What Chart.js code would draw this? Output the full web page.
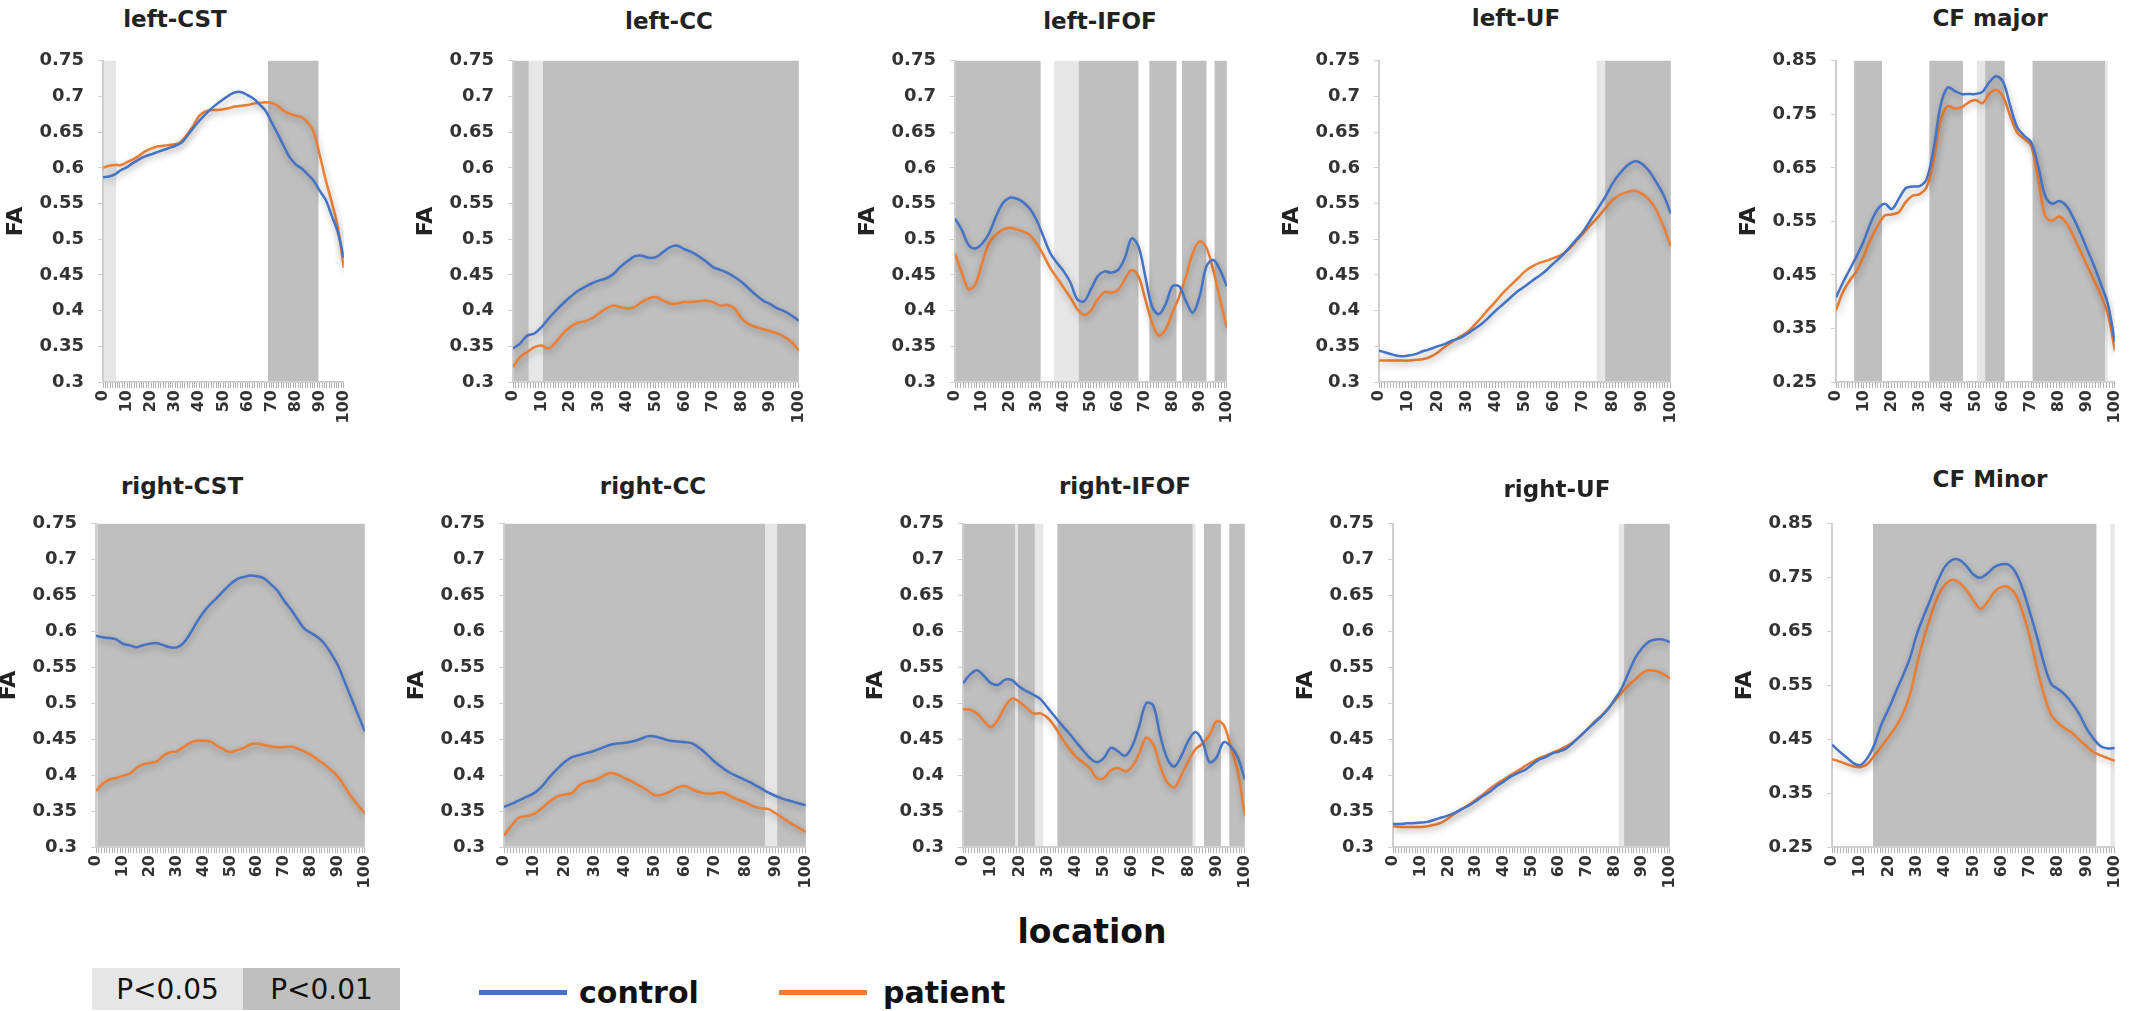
<!DOCTYPE html>
<html lang="en">
<head>
<meta charset="UTF-8" />
<title>FA along tracts: control vs patient</title>
<script src="https://cdn.jsdelivr.net/npm/chart.js"></script>
<style>
  body { margin: 0; background: #fff; }
  #page { position: relative; width: 2144px; height: 1011px; overflow: hidden; background: #fff; }
  #page canvas { position: absolute; }
  .title {
    position: absolute;
    transform: translate(-50%, -50%);
    font-family: "DejaVu Sans", sans-serif;
    font-weight: bold;
    font-size: 23px;
    line-height: 1;
    color: #222;
    white-space: nowrap;
  }
  .axis-name {
    position: absolute;
    transform: translate(-50%, -50%);
    font-family: "DejaVu Sans", sans-serif;
    font-weight: bold;
    font-size: 33px;
    line-height: 1;
    color: #111;
  }
  .pbox {
    position: absolute;
    top: 968px;
    height: 42px;
    display: flex;
    align-items: center;
    justify-content: center;
    font-family: "DejaVu Sans", sans-serif;
    font-size: 28px;
    color: #111;
  }
  .key-line { position: absolute; top: 990px; width: 88px; height: 5px; }
  .key-text {
    position: absolute;
    top: 993px;
    transform: translateY(-50%);
    font-family: "DejaVu Sans", sans-serif;
    font-weight: bold;
    font-size: 30px;
    line-height: 1;
    color: #111;
  }
</style>
</head>
<body>
<div id="page"></div>

<script>
// sample locations along the tract (0..100)
const LOC = [0, 2.5, 5, 7.5, 10, 12.5, 15, 17.5, 20, 22.5, 25, 27.5, 30, 32.5, 35, 37.5, 40, 42.5, 45, 47.5,
  50, 52.5, 55, 57.5, 60, 62.5, 65, 67.5, 70, 72.5, 75, 77.5, 80, 82.5, 85, 87.5, 90, 92.5, 95, 97.5, 100];

const X_LABELS = [0, 10, 20, 30, 40, 50, 60, 70, 80, 90, 100];
const Y_TICKS_FA = [0.3, 0.35, 0.4, 0.45, 0.5, 0.55, 0.6, 0.65, 0.7, 0.75];
const Y_TICKS_CF = [0.25, 0.35, 0.45, 0.55, 0.65, 0.75, 0.85];

// ---- FA values ----
const leftCstControl = [0.587,0.588,0.591,0.597,0.601,0.607,0.612,0.616,0.619,0.622,0.625,0.628,0.631,0.635,0.645,0.656,0.666,0.675,0.683,0.690,0.696,0.702,0.706,0.706,0.702,0.697,0.689,0.680,0.664,0.648,0.631,0.615,0.605,0.599,0.591,0.582,0.568,0.555,0.533,0.510,0.474];
const leftCstPatient = [0.600,0.603,0.604,0.604,0.608,0.612,0.617,0.623,0.627,0.630,0.631,0.632,0.633,0.637,0.647,0.659,0.673,0.679,0.681,0.681,0.682,0.684,0.686,0.687,0.688,0.690,0.691,0.692,0.691,0.687,0.680,0.676,0.673,0.671,0.664,0.650,0.618,0.583,0.552,0.517,0.460];

const leftCcControl = [0.347,0.354,0.365,0.368,0.377,0.389,0.400,0.410,0.419,0.427,0.433,0.438,0.442,0.445,0.451,0.461,0.469,0.476,0.477,0.474,0.475,0.482,0.489,0.491,0.486,0.482,0.476,0.469,0.461,0.457,0.453,0.447,0.440,0.431,0.422,0.414,0.409,0.403,0.399,0.393,0.386];
const leftCcPatient = [0.321,0.335,0.342,0.349,0.351,0.347,0.356,0.368,0.377,0.383,0.385,0.389,0.396,0.403,0.407,0.405,0.403,0.405,0.412,0.417,0.419,0.414,0.410,0.410,0.412,0.412,0.413,0.414,0.412,0.407,0.408,0.403,0.389,0.381,0.377,0.374,0.371,0.368,0.363,0.356,0.344];

const leftIfofControl = [0.529,0.513,0.492,0.487,0.494,0.508,0.531,0.550,0.558,0.557,0.552,0.543,0.527,0.504,0.481,0.467,0.455,0.439,0.416,0.413,0.430,0.448,0.455,0.453,0.457,0.474,0.501,0.490,0.448,0.406,0.395,0.409,0.434,0.434,0.413,0.397,0.420,0.462,0.471,0.457,0.434];
const leftIfofPatient = [0.480,0.453,0.430,0.437,0.467,0.494,0.506,0.513,0.516,0.514,0.511,0.506,0.494,0.478,0.460,0.446,0.432,0.418,0.402,0.394,0.400,0.416,0.426,0.425,0.429,0.444,0.457,0.448,0.416,0.383,0.365,0.374,0.397,0.420,0.448,0.481,0.497,0.488,0.457,0.416,0.376];

const leftUfControl = [0.344,0.341,0.338,0.336,0.337,0.339,0.343,0.346,0.350,0.353,0.358,0.361,0.367,0.374,0.381,0.390,0.400,0.409,0.418,0.427,0.434,0.442,0.449,0.457,0.467,0.476,0.487,0.499,0.511,0.527,0.543,0.559,0.578,0.592,0.603,0.609,0.606,0.596,0.580,0.562,0.536];
const leftUfPatient = [0.330,0.330,0.330,0.330,0.330,0.331,0.332,0.335,0.341,0.349,0.356,0.363,0.369,0.379,0.390,0.402,0.413,0.425,0.435,0.445,0.455,0.462,0.467,0.470,0.474,0.478,0.486,0.497,0.508,0.520,0.531,0.543,0.555,0.562,0.566,0.568,0.564,0.556,0.541,0.518,0.490];

const cfMajorControl = [0.408,0.436,0.461,0.486,0.514,0.548,0.573,0.583,0.573,0.592,0.612,0.615,0.616,0.629,0.685,0.766,0.800,0.794,0.788,0.788,0.788,0.792,0.810,0.821,0.810,0.766,0.726,0.710,0.698,0.654,0.598,0.583,0.588,0.580,0.558,0.530,0.499,0.468,0.433,0.396,0.325];
const cfMajorPatient = [0.384,0.418,0.440,0.458,0.486,0.517,0.542,0.561,0.563,0.567,0.586,0.598,0.601,0.614,0.663,0.738,0.765,0.761,0.763,0.772,0.777,0.771,0.788,0.796,0.782,0.747,0.716,0.704,0.691,0.629,0.561,0.551,0.559,0.548,0.524,0.496,0.468,0.440,0.412,0.377,0.309];

const rightCstControl = [0.594,0.592,0.591,0.589,0.583,0.581,0.578,0.581,0.583,0.584,0.581,0.578,0.578,0.584,0.597,0.613,0.627,0.638,0.647,0.657,0.666,0.673,0.676,0.678,0.677,0.674,0.666,0.657,0.643,0.631,0.617,0.604,0.598,0.592,0.583,0.569,0.553,0.530,0.507,0.484,0.461];
const rightCstPatient = [0.378,0.388,0.394,0.396,0.399,0.402,0.410,0.415,0.417,0.419,0.427,0.432,0.433,0.439,0.445,0.448,0.448,0.447,0.441,0.436,0.432,0.435,0.438,0.443,0.444,0.442,0.440,0.439,0.439,0.440,0.437,0.433,0.428,0.421,0.415,0.407,0.398,0.384,0.370,0.358,0.347];

const rightCcControl = [0.356,0.360,0.365,0.370,0.375,0.384,0.397,0.408,0.418,0.425,0.428,0.431,0.434,0.438,0.442,0.444,0.445,0.447,0.450,0.454,0.454,0.451,0.448,0.447,0.446,0.444,0.437,0.428,0.418,0.410,0.403,0.398,0.393,0.388,0.382,0.376,0.371,0.367,0.364,0.361,0.358];
const rightCcPatient = [0.316,0.330,0.341,0.343,0.346,0.354,0.363,0.370,0.373,0.375,0.386,0.391,0.393,0.398,0.403,0.401,0.396,0.391,0.385,0.379,0.372,0.373,0.377,0.383,0.385,0.380,0.376,0.374,0.375,0.376,0.371,0.366,0.362,0.357,0.354,0.353,0.347,0.340,0.333,0.327,0.321];

const rightIfofControl = [0.528,0.540,0.546,0.538,0.528,0.526,0.533,0.532,0.523,0.517,0.512,0.506,0.494,0.482,0.470,0.459,0.447,0.435,0.424,0.418,0.424,0.438,0.433,0.427,0.440,0.468,0.500,0.497,0.455,0.423,0.412,0.427,0.448,0.460,0.447,0.418,0.425,0.446,0.440,0.425,0.394];
const rightIfofPatient = [0.492,0.491,0.486,0.475,0.467,0.478,0.496,0.507,0.502,0.494,0.486,0.486,0.480,0.468,0.452,0.438,0.426,0.418,0.410,0.396,0.396,0.407,0.410,0.405,0.412,0.430,0.452,0.443,0.412,0.390,0.383,0.400,0.420,0.436,0.444,0.456,0.475,0.470,0.440,0.405,0.343];

const rightUfControl = [0.332,0.332,0.333,0.333,0.334,0.335,0.338,0.341,0.344,0.348,0.353,0.358,0.364,0.371,0.377,0.385,0.391,0.398,0.403,0.407,0.414,0.421,0.425,0.430,0.433,0.437,0.445,0.454,0.463,0.472,0.481,0.491,0.505,0.520,0.542,0.563,0.577,0.586,0.589,0.589,0.585];
const rightUfPatient = [0.329,0.328,0.328,0.328,0.328,0.329,0.331,0.334,0.340,0.347,0.353,0.359,0.366,0.373,0.381,0.388,0.394,0.400,0.406,0.412,0.418,0.423,0.427,0.431,0.435,0.440,0.446,0.454,0.463,0.473,0.482,0.492,0.503,0.514,0.525,0.533,0.542,0.546,0.545,0.541,0.535];

const cfMinorControl = [0.440,0.428,0.417,0.406,0.402,0.415,0.440,0.478,0.506,0.537,0.567,0.600,0.645,0.680,0.712,0.745,0.771,0.783,0.783,0.772,0.756,0.750,0.758,0.770,0.775,0.774,0.759,0.728,0.685,0.640,0.590,0.553,0.543,0.532,0.516,0.496,0.470,0.451,0.437,0.433,0.434];
const cfMinorPatient = [0.413,0.409,0.404,0.400,0.398,0.404,0.420,0.436,0.454,0.473,0.497,0.532,0.588,0.638,0.680,0.716,0.737,0.746,0.741,0.727,0.708,0.692,0.705,0.724,0.733,0.732,0.718,0.684,0.638,0.582,0.532,0.495,0.480,0.470,0.461,0.449,0.437,0.426,0.420,0.415,0.410];

// ---- significant stretches, [first location, last location] ----
const leftCstP05 = [[0, 5]];
const leftCstP01 = [[69, 89]];
const leftCcP05 = [[6, 10]];
const leftCcP01 = [[0, 5], [11, 100]];
const leftIfofP05 = [[37, 45]];
const leftIfofP01 = [[0, 31], [46, 67], [72, 81], [84, 92], [96, 100]];
const leftUfP05 = [[75, 77]];
const leftUfP01 = [[78, 100]];
const cfMajorP05 = [[51, 53], [97, 97]];
const cfMajorP01 = [[7, 16], [34, 45], [54, 60], [71, 96]];
const rightCstP05 = [[0, 0]];
const rightCstP01 = [[1, 100]];
const rightCcP05 = [[87, 90]];
const rightCcP01 = [[0, 86], [91, 100]];
const rightIfofP05 = [[19, 19], [26, 28], [82, 82]];
const rightIfofP01 = [[0, 18], [20, 25], [34, 81], [86, 91], [95, 100]];
const rightUfP05 = [[82, 83]];
const rightUfP01 = [[84, 100]];
const cfMinorP05 = [[99, 100]];
const cfMinorP01 = [[15, 93]];

const BLUE = "#4472C4";
const ORANGE = "#ED7D31";
const DARK = "#bfbfbf";
const LIGHT = "#e6e6e6";

// plot box on the page: [left, right, top, bottom], title centre [x, y]
const panels = [
  { title: "left-CST",   control: leftCstControl,   patient: leftCstPatient,   p05: leftCstP05,   p01: leftCstP01,   yTicks: Y_TICKS_FA, box: [103, 351, 58, 382],   at: [175, 19] },
  { title: "left-CC",    control: leftCcControl,    patient: leftCcPatient,    p05: leftCcP05,    p01: leftCcP01,    yTicks: Y_TICKS_FA, box: [513, 806, 58, 382],   at: [669, 21] },
  { title: "left-IFOF",  control: leftIfofControl,  patient: leftIfofPatient,  p05: leftIfofP05,  p01: leftIfofP01,  yTicks: Y_TICKS_FA, box: [955, 1234, 58, 382],  at: [1100, 21] },
  { title: "left-UF",    control: leftUfControl,    patient: leftUfPatient,    p05: leftUfP05,    p01: leftUfP01,    yTicks: Y_TICKS_FA, box: [1379, 1678, 58, 382], at: [1516, 18] },
  { title: "CF major",   control: cfMajorControl,   patient: cfMajorPatient,   p05: cfMajorP05,   p01: cfMajorP01,   yTicks: Y_TICKS_CF, box: [1836, 2122, 58, 382], at: [1990, 18] },
  { title: "right-CST",  control: rightCstControl,  patient: rightCstPatient,  p05: rightCstP05,  p01: rightCstP01,  yTicks: Y_TICKS_FA, box: [96, 372, 521, 847],   at: [182, 486] },
  { title: "right-CC",   control: rightCcControl,   patient: rightCcPatient,   p05: rightCcP05,   p01: rightCcP01,   yTicks: Y_TICKS_FA, box: [504, 813, 521, 847],  at: [653, 486] },
  { title: "right-IFOF", control: rightIfofControl, patient: rightIfofPatient, p05: rightIfofP05, p01: rightIfofP01, yTicks: Y_TICKS_FA, box: [963, 1252, 521, 847], at: [1125, 486] },
  { title: "right-UF",   control: rightUfControl,   patient: rightUfPatient,   p05: rightUfP05,   p01: rightUfP01,   yTicks: Y_TICKS_FA, box: [1393, 1677, 521, 847], at: [1557, 489] },
  { title: "CF Minor",   control: cfMinorControl,   patient: cfMinorPatient,   p05: cfMinorP05,   p01: cfMinorP01,   yTicks: Y_TICKS_CF, box: [1832, 2122, 521, 847], at: [1990, 479] }
];

const page = document.getElementById("page");

// every location gets a little tick mark on the x axis
const X_TICKS = [];
for (let i = 0; i <= 100; i++) X_TICKS.push(i);

function fillBands(chart, list, color) {
  const { ctx, chartArea: a, scales: { x } } = chart;
  ctx.fillStyle = color;
  list.forEach(([s, e]) => {
    const l = Math.max(a.left + 1, x.getPixelForValue(s - 0.5));
    const r = Math.min(a.right, x.getPixelForValue(e + 0.5));
    if (r > l) ctx.fillRect(l, a.top, r - l, a.bottom - a.top - 1);
  });
}

const lineShadow = {
  id: "lineShadow",
  beforeDatasetDraw(chart) {
    const c = chart.ctx;
    c.save();
    c.shadowColor = "rgba(0,0,0,0.3)";
    c.shadowBlur = 7;
    c.shadowOffsetX = 1;
    c.shadowOffsetY = 3;
  },
  afterDatasetDraw(chart) {
    chart.ctx.restore();
  }
};

function series(label, values, color) {
  return {
    label: label,
    data: LOC.map((x, i) => ({ x: x, y: values[i] })),
    borderColor: color,
    borderWidth: 2.5,
    pointRadius: 0,
    tension: 0.35,
    fill: false
  };
}

function makePanel(p) {
  const [x0, x1, y0, y1] = p.box;
  const padL = 100, padR = 14, padT = 22, padB = 50;

  const cv = document.createElement("canvas");
  cv.width = x1 - x0 + padL + padR;
  cv.height = y1 - y0 + padT + padB;
  cv.style.left = (x0 - padL) + "px";
  cv.style.top = (y0 - padT) + "px";
  page.appendChild(cv);

  const t = document.createElement("div");
  t.className = "title";
  t.textContent = p.title;
  t.style.left = p.at[0] + "px";
  t.style.top = p.at[1] + "px";
  page.appendChild(t);

  const bands = {
    id: "bands",
    beforeDatasetsDraw(chart) {
      fillBands(chart, p.p05, LIGHT);
      fillBands(chart, p.p01, DARK);
    }
  };

  new Chart(cv, {
    type: "line",
    data: { datasets: [series("control", p.control, BLUE), series("patient", p.patient, ORANGE)] },
    options: {
      responsive: false,
      animation: false,
      devicePixelRatio: 1,
      layout: { padding: { top: padT, right: padR, left: 0, bottom: 0 } },
      plugins: { legend: { display: false }, tooltip: { enabled: false } },
      scales: {
        x: {
          type: "linear",
          min: 0,
          max: 100,
          afterBuildTicks: axis => { axis.ticks = X_TICKS.map(v => ({ value: v })); },
          afterFit: axis => { axis.height = padB; },
          grid: { drawOnChartArea: false, tickLength: 6, color: "#b0b0b0", tickColor: "#b0b0b0" },
          border: { color: "#cfcfcf", width: 2 },
          ticks: {
            autoSkip: false,
            minRotation: 90,
            maxRotation: 90,
            padding: 2,
            color: "#333",
            font: { family: "DejaVu Sans", size: 16, weight: "bold" },
            callback: v => (X_LABELS.includes(v) ? String(v) : "")
          }
        },
        y: {
          min: p.yTicks[0],
          max: p.yTicks[p.yTicks.length - 1],
          afterBuildTicks: axis => { axis.ticks = p.yTicks.map(v => ({ value: v })); },
          afterFit: axis => { axis.width = padL; },
          grid: { drawOnChartArea: false, tickLength: 5, color: "#cfcfcf", tickColor: "#cfcfcf" },
          border: { color: "#cfcfcf", width: 2 },
          ticks: {
            padding: 14,
            color: "#333",
            font: { family: "DejaVu Sans", size: 18, weight: "bold" },
            callback: v => String(+Number(v).toFixed(2))
          },
          title: {
            display: true,
            text: "FA",
            color: "#222",
            font: { family: "DejaVu Sans", size: 22, weight: "bold" },
            padding: { top: 0, bottom: 0 }
          }
        }
      }
    },
    plugins: [bands, lineShadow]
  });
}

panels.forEach(makePanel);

// shared axis name and keys
page.insertAdjacentHTML("beforeend", `
  <div class="axis-name" style="left:1092px; top:931px;">location</div>
  <div class="pbox" style="left:92px; width:151px; background:${LIGHT};">P&lt;0.05</div>
  <div class="pbox" style="left:243px; width:157px; background:${DARK};">P&lt;0.01</div>
  <div class="key-line" style="left:479px; background:${BLUE};"></div>
  <div class="key-text" style="left:579px;">control</div>
  <div class="key-line" style="left:779px; background:${ORANGE};"></div>
  <div class="key-text" style="left:883px;">patient</div>
`);
</script>
</body>
</html>
